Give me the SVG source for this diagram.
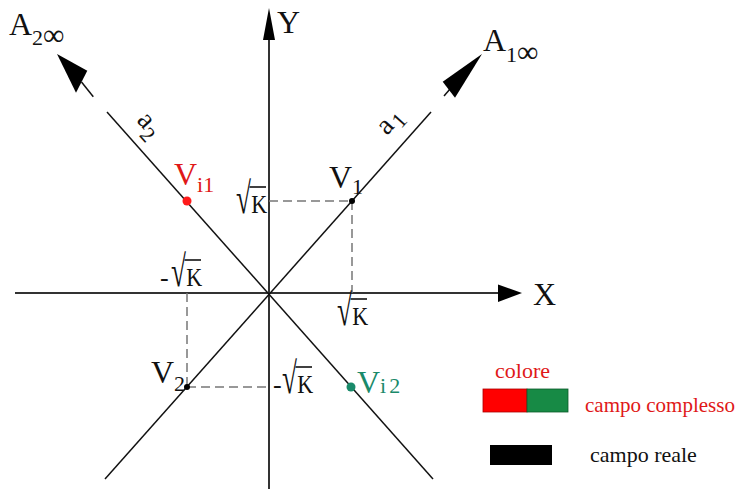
<svg xmlns="http://www.w3.org/2000/svg" width="739" height="489" viewBox="0 0 739 489">
<style>
text{font-family:"Liberation Serif","Times New Roman",serif;fill:#111}
.ax{stroke:#333;stroke-width:2;fill:none}
.ln{stroke:#111;stroke-width:1.5;fill:none}
.dash{stroke:#777;stroke-width:1.5;stroke-dasharray:9,5;fill:none}
.head{fill:#000}
.big{font-size:32px}
.sub{font-size:22px}
.inf{font-size:30px}
.rad{font-size:34px}
.kk{font-size:26px}
.minus{font-size:26px}
.vinc{stroke:#111;stroke-width:1.6}
.red{fill:#e01818}
.grn{fill:#1a8a6a}
.leg{font-size:22px}
</style>
<defs>
  <g id="sqrtK">
    <text class="rad" transform="scale(0.8,1.3)">√</text>
    <text class="kk" x="15" transform="scale(0.85,1)" dx="3">K</text>
    <line class="vinc" x1="13.5" y1="-26" x2="30" y2="-26"/>
  </g>
</defs>
<rect width="739" height="489" fill="#fff"/>
<g id="connectors">
  <line class="ax" x1="15" y1="293" x2="500" y2="293"/>
  <polygon class="head" points="522,293 498,284.5 498,302"/>
  <line class="ax" x1="269" y1="489" x2="269" y2="38"/>
  <polygon class="head" points="269,8 263,40 275,40"/>
  <line class="ln" x1="105" y1="479" x2="431" y2="112"/>
  <line class="ln" x1="444" y1="96" x2="450" y2="89"/>
  <polygon class="head" points="482,54 442.7,81.7 455,97.7"/>
  <line class="ln" x1="433" y1="479" x2="107" y2="112"/>
  <line class="ln" x1="93.3" y1="96.7" x2="81.5" y2="82"/>
  <polygon class="head" points="57,54 87.3,70.7 76,92.7"/>
  <line class="dash" x1="269" y1="201" x2="352" y2="201"/>
  <line class="dash" x1="352" y1="201" x2="352" y2="293"/>
  <line class="dash" x1="187" y1="293" x2="187" y2="387"/>
  <line class="dash" x1="187" y1="387" x2="269" y2="387"/>
</g>
<g id="labels-axes">
  <text class="big" x="277" y="33">Y</text>
  <text class="big" x="533" y="305">X</text>
  <text class="big" x="9" y="35">A<tspan class="sub" dy="10">2</tspan><tspan class="inf">∞</tspan></text>
  <text class="big" x="483" y="51">A<tspan class="sub" dy="11">1</tspan><tspan class="inf">∞</tspan></text>
  <text transform="translate(136,121) rotate(48)" style="font-size:28px">a<tspan class="sub" dy="8">2</tspan></text>
  <text transform="translate(387,136) rotate(-48)" style="font-size:28px">a<tspan class="sub" dy="6" dx="2">1</tspan></text>
</g>
<g id="node-V1">
  <circle cx="352" cy="201" r="3"/>
  <text class="big" x="329" y="188">V<tspan class="sub" dy="6">1</tspan></text>
</g>
<g id="node-Vi1">
  <circle cx="187" cy="201" r="4.5" fill="#ff1a1a"/>
  <text class="big red" x="174" y="185">V<tspan class="sub" dy="7">i1</tspan></text>
</g>
<g id="node-V2">
  <circle cx="187" cy="387" r="3"/>
  <text class="big" x="151" y="383">V<tspan class="sub" dy="8">2</tspan></text>
</g>
<g id="node-Vi2">
  <circle cx="351" cy="387" r="4.5" fill="#1a8a6a"/>
  <text class="big grn" x="357" y="393">V<tspan class="sub">i</tspan><tspan class="sub" dx="3">2</tspan></text>
</g>
<g id="ticks">
  <use href="#sqrtK" transform="translate(236,213)"/>
  <text class="minus" x="160" y="286">-</text>
  <use href="#sqrtK" transform="translate(171,286)"/>
  <use href="#sqrtK" transform="translate(337,325)"/>
  <text class="minus" x="273" y="393">-</text>
  <use href="#sqrtK" transform="translate(282,393)"/>
</g>
<g id="legend">
  <text class="leg red" x="495" y="378">colore</text>
  <rect x="483" y="389" width="44" height="23" fill="#ff0000" stroke="#a00" stroke-width="0.8"/>
  <rect x="527" y="389" width="41" height="23" fill="#178a45" stroke="#0c5a2a" stroke-width="0.8"/>
  <text class="red" style="font-size:21px" x="585" y="412">campo complesso</text>
  <rect x="490" y="445" width="62" height="20" fill="#000"/>
  <text class="leg" x="590" y="462">campo reale</text>
</g>
</svg>
